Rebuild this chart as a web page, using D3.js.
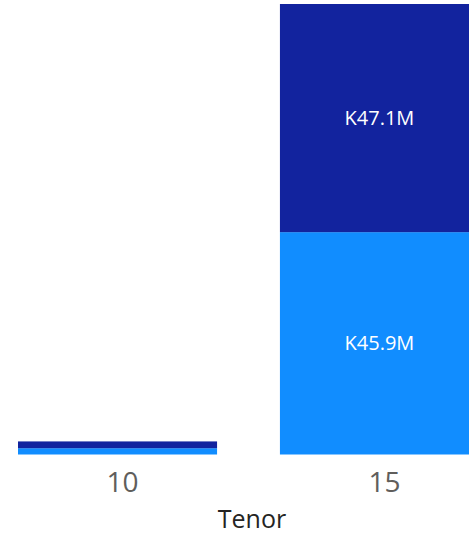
<!DOCTYPE html>
<html>
<head>
<meta charset="utf-8">
<script src="https://cdn.jsdelivr.net/npm/d3@7"></script>
<style>
  body { margin: 0; background: #fff; }
  svg { display: block; font-family: "Segoe UI", "Open Sans", sans-serif; }
</style>
</head>
<body>
<div id="chart"></div>
<script>
const tenors = ["10", "15"];
const lowerSeries = [1.3, 45.9];   // light blue, millions
const upperSeries = [1.4, 47.1];   // dark blue, millions
const seriesColors = ["#118DFF", "#12239E"];

const W = 469, H = 535;
const plotTop = 4, plotBottom = 454.5;

const rows = tenors.map((t, i) => ({ tenor: t, lower: lowerSeries[i], upper: upperSeries[i] }));
const stack = d3.stack().keys(["lower", "upper"])(rows);

const svg = d3.select("#chart").append("svg")
  .attr("width", W).attr("height", H);

const x = d3.scaleBand()
  .domain(tenors)
  .range([18, 479])
  .paddingInner(0.24)
  .paddingOuter(0);

const maxTotal = d3.max(rows, d => d.lower + d.upper);
const y = d3.scaleLinear()
  .domain([0, maxTotal])
  .range([plotBottom, plotTop]);

const layers = svg.append("g").selectAll("g")
  .data(stack)
  .join("g")
  .attr("fill", (d, i) => seriesColors[i]);

layers.selectAll("rect")
  .data(d => d)
  .join("rect")
  .attr("x", d => x(d.data.tenor))
  .attr("width", x.bandwidth())
  .attr("y", d => y(d[1]))
  .attr("height", d => y(d[0]) - y(d[1]));

// data labels, only where the segment is tall enough
layers.selectAll("text")
  .data(d => d.filter(s => y(s[0]) - y(s[1]) > 30))
  .join("text")
  .attr("x", d => x(d.data.tenor) + x.bandwidth() / 2)
  .attr("y", d => (y(d[0]) + y(d[1])) / 2)
  .attr("dy", "0.35em")
  .attr("text-anchor", "middle")
  .attr("fill", "#fff")
  .style("font-size", "20px")
  .text(d => "K" + (d[1] - d[0]).toFixed(1) + "M");

const xAxis = svg.append("g")
  .attr("transform", "translate(5," + plotBottom + ")")
  .call(d3.axisBottom(x).tickSize(0).tickPadding(0));
xAxis.select(".domain").remove();
xAxis.selectAll("text")
  .attr("dy", null)
  .attr("y", 37.5)
  .attr("fill", "#605E5C")
  .style("font-size", "28px")
  .style("font-family", "\"Segoe UI\", \"Open Sans\", sans-serif");

svg.append("text")
  .attr("x", 252)
  .attr("y", 528)
  .attr("text-anchor", "middle")
  .attr("fill", "#252423")
  .style("font-size", "25px")
  .style("font-weight", 500)
  .text("Tenor");
</script>
</body>
</html>
